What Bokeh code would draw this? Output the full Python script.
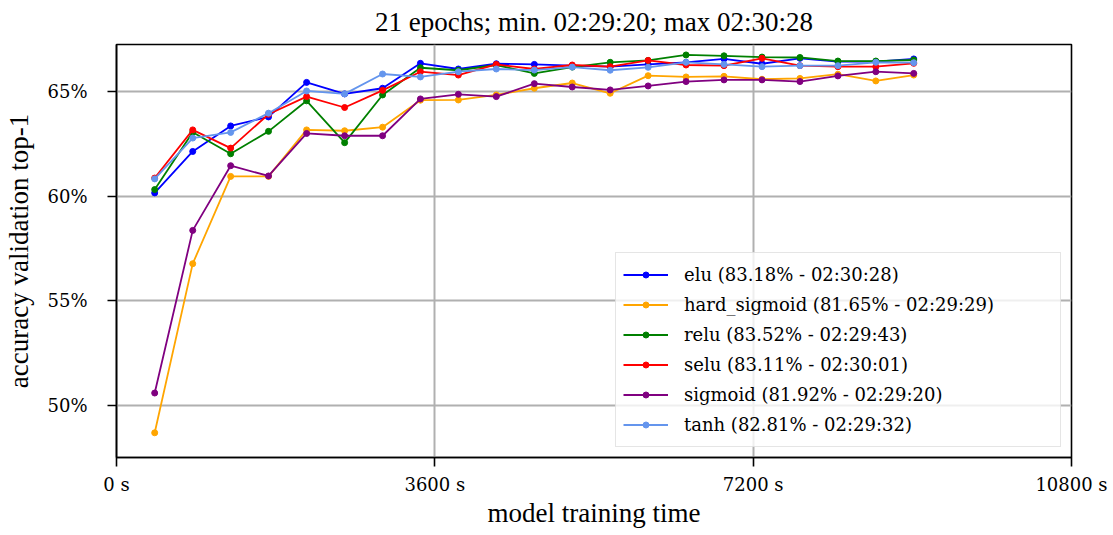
from bokeh.plotting import figure
from bokeh.models import Range1d, FixedTicker, Legend, LegendItem
from bokeh.embed import file_html
from bokeh.resources import INLINE

# ---- data ----
epoch_time_s = [432, 862, 1291, 1719, 2150, 2580, 3009, 3437, 3866, 4295, 4725,
                5154, 5583, 6012, 6441, 6870, 7300, 7729, 8158, 8587, 9016]

elu = [60.16, 62.14, 63.36, 63.79, 65.44, 64.89, 65.16, 66.35, 66.08, 66.33, 66.30,
       66.24, 66.19, 66.30, 66.40, 66.56, 66.33, 66.59, 66.43, 66.43, 66.56]
hard_sigmoid = [48.70, 56.78, 60.95, 60.95, 63.17, 63.13, 63.30, 64.59, 64.60, 64.84, 65.16,
                65.41, 64.92, 65.76, 65.70, 65.73, 65.59, 65.63, 65.83, 65.51, 65.79]
relu = [60.32, 63.06, 62.03, 63.10, 64.56, 62.56, 64.84, 66.14, 66.02, 66.27, 65.87,
        66.17, 66.40, 66.49, 66.75, 66.71, 66.65, 66.63, 66.46, 66.46, 66.51]
selu = [60.87, 63.17, 62.30, 63.92, 64.76, 64.24, 65.06, 65.95, 65.79, 66.30, 66.08,
        66.27, 66.19, 66.49, 66.27, 66.24, 66.59, 66.24, 66.19, 66.19, 66.35]
sigmoid = [50.60, 58.37, 61.46, 60.97, 63.00, 62.89, 62.89, 64.65, 64.87, 64.76, 65.38,
           65.22, 65.08, 65.27, 65.48, 65.56, 65.56, 65.48, 65.75, 65.95, 65.87]
tanh = [60.83, 62.78, 63.05, 63.97, 65.03, 64.89, 65.84, 65.70, 65.95, 66.08, 66.03,
        66.17, 66.02, 66.16, 66.40, 66.30, 66.19, 66.24, 66.24, 66.40, 66.38]

series_names = ["elu", "hard_sigmoid", "relu", "selu", "sigmoid", "tanh"]
series_values = [elu, hard_sigmoid, relu, selu, sigmoid, tanh]
series_colors = ["blue", "orange", "green", "red", "purple", "cornflowerblue"]
legend_labels = [
    "elu (83.18% - 02:30:28)",
    "hard_sigmoid (81.65% - 02:29:29)",
    "relu (83.52% - 02:29:43)",
    "selu (83.11% - 02:30:01)",
    "sigmoid (81.92% - 02:29:20)",
    "tanh (82.81% - 02:29:32)",
]

x_ticks = [0, 3600, 7200, 10800]
x_tick_labels = ["0 s", "3600 s", "7200 s", "10800 s"]
y_ticks = [50, 55, 60, 65]
y_tick_labels = ["50%", "55%", "60%", "65%"]

title_text = "21 epochs; min. 02:29:20; max 02:30:28"
x_label = "model training time"
y_label = "accuracy validation top-1"

FONT = "Liberation Serif"
DFONT = "DejaVu Serif"

p = figure(width=1110, height=532, output_backend="svg", toolbar_location=None,
           x_range=Range1d(0, 10800), y_range=Range1d(47.52, 67.25),
           min_border_left=116, min_border_right=39, min_border_top=43,
           min_border_bottom=75, title=title_text)

p.title.text_font = FONT
p.title.text_font_size = "27px"
p.title.text_font_style = "normal"
p.title.align = "center"
p.title.vertical_align = "top"
p.title.standoff = 12
p.title.text_color = "black"

p.outline_line_color = "black"
p.outline_line_width = 1.6
p.background_fill_color = "white"
p.border_fill_color = "white"

for ax in (p.xaxis[0], p.yaxis[0]):
    ax.axis_line_color = "black"
    ax.axis_line_width = 1.6
    ax.major_tick_line_color = "black"
    ax.major_tick_line_width = 1.6
    ax.major_tick_out = 9
    ax.major_tick_in = 0
    ax.minor_tick_out = 0
    ax.minor_tick_in = 0
    ax.major_label_text_font = DFONT
    ax.major_label_text_font_size = "18px"
    ax.major_label_text_font_style = "normal"
    ax.major_label_text_color = "black"
    ax.axis_label_text_font = FONT
    ax.axis_label_text_font_size = "27px"
    ax.axis_label_text_font_style = "normal"
    ax.axis_label_text_color = "black"

p.xaxis[0].ticker = FixedTicker(ticks=x_ticks)
p.xaxis[0].major_label_overrides = dict(zip(x_ticks, x_tick_labels))
p.xaxis[0].axis_label = x_label
p.xaxis[0].major_label_standoff = 7
p.xaxis[0].axis_label_standoff = 0

p.yaxis[0].ticker = FixedTicker(ticks=y_ticks)
p.yaxis[0].major_label_overrides = dict(zip(y_ticks, y_tick_labels))
p.yaxis[0].axis_label = y_label
p.yaxis[0].major_label_standoff = 20
p.yaxis[0].axis_label_standoff = 10

for g in (p.xgrid[0], p.ygrid[0]):
    g.grid_line_color = "#b0b0b0"
    g.grid_line_width = 2
p.xgrid[0].ticker = FixedTicker(ticks=x_ticks)
p.ygrid[0].ticker = FixedTicker(ticks=y_ticks)

items = []
for name, vals, col, lab in zip(series_names, series_values, series_colors, legend_labels):
    ln = p.line(epoch_time_s, vals, line_color=col, line_width=1.8)
    sc = p.scatter(epoch_time_s, vals, size=6, fill_color=col, line_color=col)
    items.append(LegendItem(label=lab, renderers=[ln, sc]))

legend = Legend(items=items, location="bottom_right", margin=10,
                label_text_font=DFONT, label_text_font_size="18px",
                label_text_font_style="normal",
                label_text_color="black",
                glyph_width=45, glyph_height=15, label_height=29, label_width=369,
                label_standoff=16, spacing=1, padding=7,
                border_line_color="#cccccc", border_line_width=1.5,
                background_fill_color="white", background_fill_alpha=0.8)
p.add_layout(legend, "center")

open("out.html", "w").write(file_html(p, INLINE))
